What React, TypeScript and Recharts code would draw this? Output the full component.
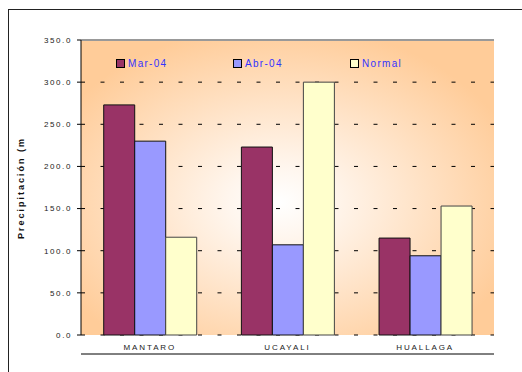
import { BarChart, Bar, XAxis, YAxis, CartesianGrid, Legend, ReferenceLine, Label } from "recharts";

const categories = ["MANTARO", "UCAYALI", "HUALLAGA"];
const mar04 = [273, 223, 115];
const abr04 = [230, 107, 94];
const normal = [116, 300, 153];
const yTicks = [0, 50, 100, 150, 200, 250, 300, 350];
const edgeTicks = [0, 1, 2, 3];

const seriesNames = ["Mar-04", "Abr-04", "Normal"];
const seriesColors = ["#993366", "#9999FF", "#FFFFCC"];

const data = categories.map((name, i) => ({
  name,
  mar: mar04[i],
  abr: abr04[i],
  normal: normal[i],
}));

const font = "'Liberation Sans', Arial, sans-serif";

function LegendBox() {
  return (
    <div style={{ display: "flex", fontFamily: font }}>
      {seriesNames.map((n, i) => (
        <div key={n} style={{ width: 117, display: "flex", alignItems: "center" }}>
          <span
            style={{
              width: 7,
              height: 7,
              background: seriesColors[i],
              border: "1px solid #000",
              marginRight: 3,
              display: "inline-block",
            }}
          />
          <span style={{ color: "#3333FF", fontSize: 10, letterSpacing: 1.3 }}>{n}</span>
        </div>
      ))}
    </div>
  );
}

export default function App() {
  return (
    <div>
      <div
        style={{
          position: "absolute",
          left: 8,
          top: 9,
          width: 514,
          height: 363,
          boxSizing: "border-box",
          borderLeft: "1px solid #222",
          borderTop: "1px solid #222",
        }}
      />
      <div style={{ position: "absolute", left: 0, top: 0 }}>
        <BarChart
          width={522}
          height={372}
          data={data}
          margin={{ top: 40, right: 28, left: 21, bottom: 17 }}
          barGap={0}
          barCategoryGap="16.5%"
        >
          <defs>
            <radialGradient id="plotBg" cx="48%" cy="55%" r="60%">
              <stop offset="0%" stopColor="#FFFFFF" />
              <stop offset="20%" stopColor="#FFF6EE" />
              <stop offset="100%" stopColor="#FFCC99" />
            </radialGradient>
          </defs>
          <CartesianGrid
            vertical={false}
            stroke="#000"
            strokeDasharray="4 15.5"
            fill="url(#plotBg)"
            fillOpacity={1}
          />
          <XAxis
            xAxisId="edge"
            type="number"
            domain={[0, 3]}
            ticks={edgeTicks}
            tick={false}
            tickSize={4}
            height={1}
            stroke="#000"
          />
          <XAxis
            xAxisId="cat"
            dataKey="name"
            axisLine={false}
            tickLine={false}
            height={19}
            tickSize={4}
            tickMargin={5}
            interval={0}
            tick={{ fill: "#222", fontSize: 8, fontFamily: font, letterSpacing: 1.9 }}
          />
          <YAxis
            domain={[0, 350]}
            ticks={yTicks}
            width={60}
            tickSize={4}
            tickMargin={5}
            stroke="#000"
            tickFormatter={(v: number) => v.toFixed(1)}
            tick={{ fill: "#222", fontSize: 8, fontFamily: font, letterSpacing: 1.6 }}
          >
            <Label
              content={() => (
                <text
                  transform="translate(21,188) rotate(-90)"
                  textAnchor="middle"
                  dominantBaseline="central"
                  fontFamily={font}
                  fontSize={9}
                  fontWeight="bold"
                  letterSpacing={2}
                  fill="#111"
                >
                  Precipitación (m
                </text>
              )}
            />
          </YAxis>
          <ReferenceLine y={350} xAxisId="cat" stroke="#999" strokeWidth={2} />
          <ReferenceLine x={3} xAxisId="edge" stroke="#aaa" strokeWidth={2} />
          <Legend
            layout="horizontal"
            verticalAlign="middle"
            align="center"
            wrapperStyle={{ position: "absolute", top: 58, left: 116, width: 360 }}
            content={<LegendBox />}
          />
          <Bar xAxisId="cat" dataKey="mar" name={seriesNames[0]} fill={seriesColors[0]} stroke="#111" strokeWidth={1} isAnimationActive={false} />
          <Bar xAxisId="cat" dataKey="abr" name={seriesNames[1]} fill={seriesColors[1]} stroke="#111" strokeWidth={1} isAnimationActive={false} />
          <Bar xAxisId="cat" dataKey="normal" name={seriesNames[2]} fill={seriesColors[2]} stroke="#444" strokeWidth={1} isAnimationActive={false} />
        </BarChart>
      </div>
    </div>
  );
}
